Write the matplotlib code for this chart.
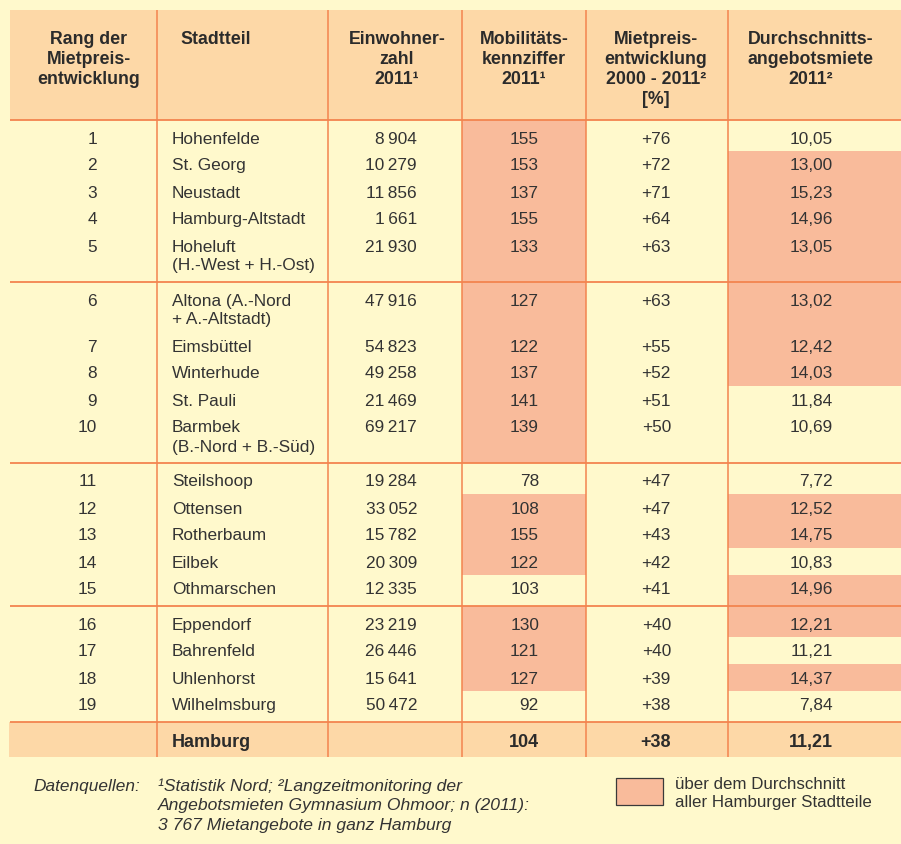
"""
Mietpreisentwicklung Hamburg 2000 - 2011 (Tabelle)
"""

import matplotlib
matplotlib.use("Agg")
import matplotlib.pyplot as plt
from matplotlib.patches import Rectangle

plt.rcParams['font.family'] = ['Liberation Sans', 'DejaVu Sans']

"""data"""
rang = [1, 2, 3, 4, 5, 6, 7, 8, 9, 10, 11, 12, 13, 14, 15, 16, 17, 18, 19]
stadtteil = ["Hohenfelde", "St. Georg", "Neustadt", "Hamburg-Altstadt",
             "Hoheluft\n(H.-West + H.-Ost)", "Altona (A.-Nord\n+ A.-Altstadt)",
             "Eimsbüttel", "Winterhude", "St. Pauli", "Barmbek\n(B.-Nord + B.-Süd)",
             "Steilshoop", "Ottensen", "Rotherbaum", "Eilbek", "Othmarschen",
             "Eppendorf", "Bahrenfeld", "Uhlenhorst", "Wilhelmsburg"]
einwohner = [8904, 10279, 11856, 1661, 21930, 47916, 54823, 49258, 21469, 69217,
             19284, 33052, 15782, 20309, 12335, 23219, 26446, 15641, 50472]
mobilitaet = [155, 153, 137, 155, 133, 127, 122, 137, 141, 139,
              78, 108, 155, 122, 103, 130, 121, 127, 92]
mietpreis = [76, 72, 71, 64, 63, 63, 55, 52, 51, 50,
             47, 47, 43, 42, 41, 40, 40, 39, 38]
miete = [10.05, 13.00, 15.23, 14.96, 13.05, 13.02, 12.42, 14.03, 11.84, 10.69,
         7.72, 12.52, 14.75, 10.83, 14.96, 12.21, 11.21, 14.37, 7.84]
# markiert = ueber dem Hamburger Durchschnitt (so wie im Original eingefaerbt)
mobil_hl = [1, 1, 1, 1, 1, 1, 1, 1, 1, 1, 0, 1, 1, 1, 0, 1, 1, 1, 0]
miete_hl = [0, 1, 1, 1, 1, 1, 1, 1, 0, 0, 0, 1, 1, 0, 1, 1, 0, 1, 0]
gruppen = [5, 5, 5, 4]
hamburg = ("Hamburg", 104, 38, 11.21)

headers = [
    ["Rang der", "Mietpreis-", "entwicklung"],
    ["Stadtteil"],
    ["Einwohner-", "zahl", "2011¹"],
    ["Mobilitäts-", "kennziffer", "2011¹"],
    ["Mietpreis-", "entwicklung", "2000 - 2011²", "[%]"],
    ["Durchschnitts-", "angebotsmiete", "2011²"],
]
quellen = ["¹Statistik Nord; ²Langzeitmonitoring der",
           "Angebotsmieten Gymnasium Ohmoor; n (2011):",
           "3 767 Mietangebote in ganz Hamburg"]
legende = ["über dem Durchschnitt", "aller Hamburger Stadtteile"]

"""style"""
BG = "#fff9cc"
HEAD = "#fdd8a7"
HL = "#f9bb9b"
LINE = "#f3844f"
TXT = "#333333"

W, H = 901, 844
col_edges = [10, 157, 328, 462, 586, 728, 901]
head_x = [89, 180, 397, 524, 656, 811]
head_ha = ["center", "left", "center", "center", "center", "center"]
cell_x = [97, 172, 417, 539, 671, 833]
cell_ha = ["right", "left", "right", "right", "right", "right"]
FS = 12.4
PITCH, LSTEP, PAD = 27, 19, 17.5


def fmt_int(v):
    return f"{v:,}".replace(",", "\u2009")


def fmt_dec(v):
    return f"{v:.2f}".replace(".", ",")


fig = plt.figure(figsize=(W / 100, H / 100), dpi=100, facecolor=BG)
ax = fig.add_axes([0, 0, 1, 1])
ax.set_xlim(0, W)
ax.set_ylim(H, 0)
ax.axis("off")

# header band
top, head_bot = 10, 120
ax.add_patch(Rectangle((col_edges[0], top), W - col_edges[0], head_bot - top,
                       facecolor=HEAD, edgecolor="none", zorder=0))
for j, lines in enumerate(headers):
    for k, s in enumerate(lines):
        ax.text(head_x[j], 44 + 20 * k, s, ha=head_ha[j], va="baseline",
                fontsize=12.8, fontweight="bold", color="#2b2b2b")

# rows: compute text line positions
seps = [head_bot]
row_lines = []
i = 0
for g in gruppen:
    y = seps[-1] + PAD
    for _ in range(g):
        n = stadtteil[i].count("\n") + 1
        row_lines.append([y + LSTEP * k for k in range(n)])
        y = row_lines[-1][-1] + PITCH
        i += 1
    seps.append(row_lines[-1][-1] + PAD)

# row boundaries for highlighted cells
bounds = []
idx = 0
for gi, g in enumerate(gruppen):
    for r in range(g):
        lo = seps[gi] if r == 0 else (row_lines[idx - 1][-1] + row_lines[idx][0]) / 2
        hi = seps[gi + 1] if r == g - 1 else (row_lines[idx][-1] + row_lines[idx + 1][0]) / 2
        bounds.append((lo, hi))
        idx += 1

for r in range(len(rang)):
    lo, hi = bounds[r]
    if mobil_hl[r]:
        ax.add_patch(Rectangle((col_edges[3], lo), col_edges[4] - col_edges[3], hi - lo,
                               facecolor=HL, edgecolor="none", zorder=0))
    if miete_hl[r]:
        ax.add_patch(Rectangle((col_edges[5], lo), col_edges[6] - col_edges[5], hi - lo,
                               facecolor=HL, edgecolor="none", zorder=0))

    base = round(row_lines[r][0] + 6)
    vals = [str(rang[r]), None, fmt_int(einwohner[r]), str(mobilitaet[r]),
            f"+{mietpreis[r]}", fmt_dec(miete[r])]
    for j, s in enumerate(vals):
        if j == 1:
            for k, part in enumerate(stadtteil[r].split("\n")):
                ax.text(cell_x[1], round(row_lines[r][k] + 6), part, ha="left",
                        va="baseline", fontsize=FS, color=TXT)
        else:
            ax.text(cell_x[j], base, s, ha=cell_ha[j], va="baseline",
                    fontsize=FS, color=TXT)

# Hamburg total row
ham_top = seps[-1]
ham_bot = ham_top + 35
ax.add_patch(Rectangle((col_edges[0] - 1, ham_top), W - col_edges[0] + 1, ham_bot - ham_top,
                       facecolor=HEAD, edgecolor="none", zorder=0))
ham_vals = [None, hamburg[0], None, str(hamburg[1]), f"+{hamburg[2]}", fmt_dec(hamburg[3])]
for j, s in enumerate(ham_vals):
    if s is None:
        continue
    ax.text(cell_x[j], round(ham_top + 25), s, ha=cell_ha[j], va="baseline",
            fontsize=13, fontweight="bold", color="#2b2b2b")

# grid lines
for s in seps:
    ax.plot([col_edges[0], W], [s, s], color=LINE, lw=1.3, zorder=2,
            solid_capstyle="butt")
for x in col_edges[1:-1]:
    ax.plot([x, x], [top, ham_bot], color=LINE, lw=1.1, zorder=2,
            solid_capstyle="butt")

# footer
ax.text(33, 791, "Datenquellen:", ha="left", va="baseline", fontsize=12.4,
        style="italic", color=TXT)
for k, s in enumerate(quellen):
    ax.text(158, round(791 + 19.5 * k), s, ha="left", va="baseline", fontsize=12.6,
            style="italic", color=TXT)

ax.add_patch(Rectangle((616, 778), 47, 27, facecolor=HL, edgecolor="#3a3a3a",
                       lw=0.9, zorder=2))
for k, s in enumerate(legende):
    ax.text(675, 789 + 18 * k, s, ha="left", va="baseline", fontsize=12.2, color=TXT)

plt.savefig("out.png", dpi=100, facecolor=BG)
